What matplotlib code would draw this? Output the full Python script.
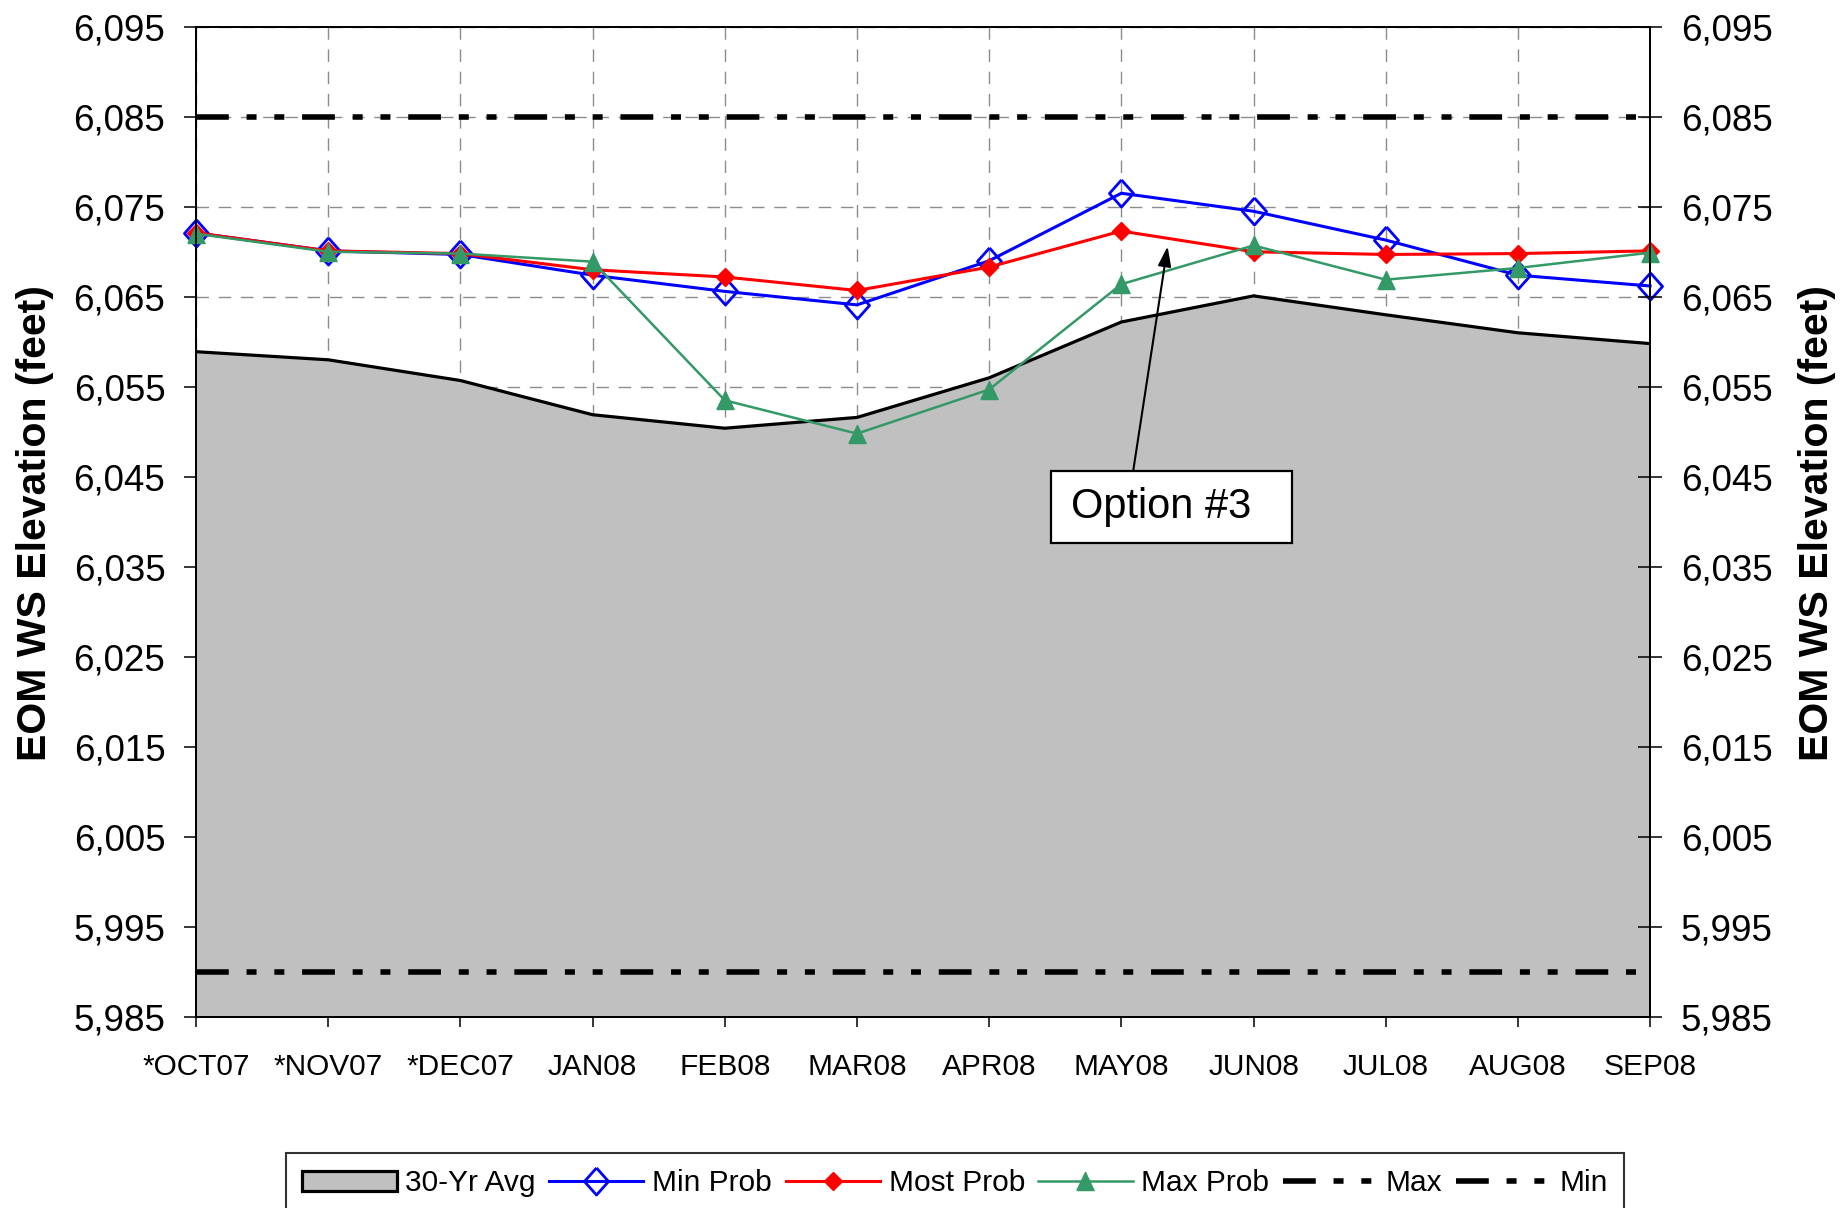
import matplotlib
matplotlib.use('Agg')
import matplotlib.pyplot as plt
from matplotlib.ticker import FuncFormatter
from matplotlib.patches import Rectangle, Patch
from matplotlib.lines import Line2D

plt.rcParams['font.family'] = ['Liberation Sans', 'DejaVu Sans']

# ---------------- data ----------------
months = ['*OCT07', '*NOV07', '*DEC07', 'JAN08', 'FEB08', 'MAR08',
          'APR08', 'MAY08', 'JUN08', 'JUL08', 'AUG08', 'SEP08']
avg_30yr = [6058.9, 6058.0, 6055.7, 6051.9, 6050.4, 6051.6,
            6056.0, 6062.2, 6065.1, 6063.0, 6061.0, 6059.8]
min_prob = [6072.1, 6070.1, 6069.7, 6067.4, 6065.6, 6064.1,
            6069.0, 6076.5, 6074.5, 6071.3, 6067.4, 6066.2]
most_prob = [6072.1, 6070.1, 6069.8, 6068.0, 6067.2, 6065.7,
             6068.3, 6072.3, 6070.0, 6069.7, 6069.8, 6070.1]
max_prob = [6072.0, 6070.0, 6069.8, 6068.9, 6053.5, 6049.8,
            6054.7, 6066.4, 6070.7, 6066.9, 6068.2, 6069.9]
max_elev = 6085
min_elev = 5990
y_ticks = [5985, 5995, 6005, 6015, 6025, 6035, 6045, 6055, 6065, 6075, 6085, 6095]
ylabel = 'EOM WS Elevation (feet)'
annotation_text = 'Option #3'

# ---------------- figure ----------------
fig = plt.figure(figsize=(18.41, 12.08), dpi=100)
ax = fig.add_axes([0.1065, 0.1581, 0.7898, 0.8198])
x = list(range(len(months)))

ax.set_xlim(x[0], x[-1])
ax.set_ylim(y_ticks[0], y_ticks[-1])

ax.set_axisbelow(True)
ax.grid(True, color='#8c8c8c', linestyle=(0, (9, 7)), linewidth=1.0, zorder=0)

ax.fill_between(x, avg_30yr, y_ticks[0], color='#C0C0C0', linewidth=0, zorder=2)
ax.plot(x, avg_30yr, color='black', linewidth=2.3, zorder=3)

dash = (0, (5.9, 3.2, 1.8, 3.2, 1.8, 3.2))
ax.axhline(max_elev, color='black', linewidth=4.0, linestyle=dash, zorder=4)
ax.axhline(min_elev, color='black', linewidth=4.0, linestyle=dash, zorder=4)

diamond_big = [(0, 1), (0.89, 0), (0, -1), (-0.89, 0), (0, 1)]
diamond_small = [(0, 1), (1, 0), (0, -1), (-1, 0), (0, 1)]
triangle = [(-0.95, -1), (0.95, -1), (0, 1), (-0.95, -1)]

blue_style = dict(color='#0000FF', linewidth=2.2, marker=diamond_big, markersize=19.5,
                  markerfacecolor='none', markeredgecolor='#0000FF', markeredgewidth=2.0)
red_style = dict(color='#FF0000', linewidth=2.2, marker=diamond_small, markersize=13,
                 markerfacecolor='#FF0000', markeredgecolor='#FF0000')
green_style = dict(color='#339966', linewidth=1.8, marker=triangle, markersize=13,
                   markerfacecolor='#339966', markeredgecolor='#339966')

ax.plot(x, min_prob, zorder=5, clip_on=False, **blue_style)
ax.plot(x, most_prob, zorder=6, clip_on=False, **red_style)
ax.plot(x, max_prob, zorder=7, clip_on=False, **green_style)

# ticks & labels
ax.set_xticks(x)
ax.set_xticklabels(months, fontsize=21.5)
ax.set_yticks(y_ticks)
fmt = FuncFormatter(lambda v, p: f'{int(round(v)):,}')
ax.yaxis.set_major_formatter(fmt)
ax.tick_params(axis='y', labelsize=26.5, direction='out', length=8.6, width=1.1, pad=13.5)
ax.tick_params(axis='x', direction='out', length=7.2, width=1.1, pad=19)

ax2 = ax.twinx()
ax2.set_ylim(y_ticks[0], y_ticks[-1])
ax2.set_yticks(y_ticks)
ax2.yaxis.set_major_formatter(fmt)
ax2.tick_params(axis='y', labelsize=26.5, direction='inout', length=17, width=1.1, pad=13.5)

for a in (ax, ax2):
    for s in a.spines.values():
        s.set_linewidth(1.3)
        s.set_color('black')

fig.text(0.019, 0.567, ylabel, rotation=90, ha='center', va='center',
         fontsize=29.5, fontweight='bold')
fig.text(0.987, 0.567, ylabel, rotation=90, ha='center', va='center',
         fontsize=29.5, fontweight='bold')

# annotation
ax.add_patch(Rectangle((6.47, 6037.7), 1.82, 8.0, facecolor='white',
                       edgecolor='black', linewidth=1.6, zorder=8))
ax.text(6.62, 6041.7, annotation_text, fontsize=30, ha='left', va='center', zorder=9)
ax.annotate('', xy=(7.35, 6070.6), xytext=(7.09, 6045.7),
            arrowprops=dict(arrowstyle='-|>,head_length=0.6,head_width=0.2',
                            color='black', lw=1.5, mutation_scale=20,
                            shrinkA=0, shrinkB=0), zorder=9)

# legend
handles = [
    Patch(facecolor='#C0C0C0', edgecolor='black', linewidth=2.3),
    Line2D([], [], **blue_style),
    Line2D([], [], **red_style),
    Line2D([], [], **green_style),
    Line2D([], [], color='black', linewidth=4.0, linestyle=dash),
    Line2D([], [], color='black', linewidth=4.0, linestyle=dash),
]
labels = ['30-Yr Avg', 'Min Prob', 'Most Prob', 'Max Prob', 'Max', 'Min']
leg = fig.legend(handles, labels, loc='upper center', bbox_to_anchor=(0.5187, 0.0455),
                 ncol=6, fontsize=21.5, frameon=True, fancybox=False, shadow=False,
                 edgecolor='black', handlelength=3.15, handletextpad=0.3,
                 columnspacing=0.45, borderpad=0.55, borderaxespad=0)
leg.get_frame().set_linewidth(1.5)

fig.savefig('out.png', dpi=100)
